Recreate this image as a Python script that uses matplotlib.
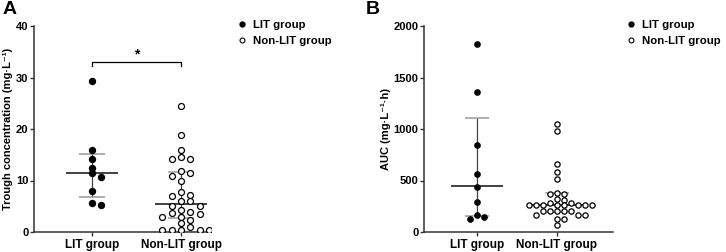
import numpy as np
import matplotlib
matplotlib.use("Agg")
import matplotlib.pyplot as plt
from matplotlib.lines import Line2D

plt.rcParams['font.family'] = ['Liberation Sans', 'DejaVu Sans']
plt.rcParams['font.weight'] = 'bold'

# DATA
groups = ['LIT group', 'Non-LIT group']

trough_lit = [29.4, 16.0, 14.2, 12.5, 11.4, 10.6, 7.9, 5.7, 5.3]
trough_non = [24.5, 18.8, 15.9, 14.5, 14.1, 14.1, 11.8, 11.4, 10.8, 10.0,
              7.7, 7.2, 7.0, 6.0, 6.0, 5.0, 5.0, 4.3, 3.9, 3.6, 3.5,
              2.9, 2.9, 2.3, 1.7, 0.9, 0.45, 0.45, 0.45, 0.45, 0.45]
trough_mid = [11.4, 5.5]
trough_low = [6.8, 2.7]
trough_high = [15.1, 11.6]

auc_lit = [1822, 1357, 847, 562, 439, 291, 168, 149, 129]
auc_non = [1050, 982, 657, 580, 515, 376, 366, 366, 317, 311,
           285, 278, 259, 259, 259, 259, 259, 259, 259, 259,
           200, 200, 200, 200, 200, 165, 165, 165, 126, 126, 68]
auc_mid = [447, 260]
auc_low = [155, 190]
auc_high = [1102, 375]


def swarm(ax, values, center, step_px, row_px):
    # greedy column placement, like a GraphPad scatter
    order = np.argsort(values)[::-1]
    placed = []
    xs = np.zeros(len(values))
    px_per_x = ax.transData.transform((1, 0))[0] - ax.transData.transform((0, 0))[0]
    px_per_y = ax.transData.transform((0, 1))[1] - ax.transData.transform((0, 0))[1]
    step = step_px / px_per_x
    for i in order:
        y = values[i]
        for k in [0, 1, -1, 2, -2, 3, -3, 4, -4, 5, -5]:
            x = center + k * step
            ok = True
            for (px, py) in placed:
                if abs(px - x) * px_per_x < step_px * 0.5 and abs(py - y) * px_per_y < row_px:
                    ok = False
                    break
            if ok:
                break
        placed.append((x, y))
        xs[i] = x
    return xs


def panel(ax, lit, non, mid, low, high, ylim, yticks, ylabel, xlim,
          ms, step_px, row_px, med_w, cap_w):
    ax.set_xlim(*xlim)
    ax.set_ylim(*ylim)
    x_lit = swarm(ax, lit, 0, step_px, row_px)
    x_non = swarm(ax, non, 1, step_px, row_px)
    ax.plot(x_lit, lit, 'o', color='black', ms=ms, mec='black', zorder=3)
    ax.plot(x_non, non, 'o', color='white', ms=ms, mec='black', mew=0.9, zorder=3)
    for i in range(2):
        ax.vlines(i, low[i], high[i], color='#444444', lw=0.9, zorder=2)
        ax.hlines([low[i], high[i]], i - cap_w, i + cap_w, color='#999999', lw=1.1, zorder=2)
        ax.hlines(mid[i], i - med_w, i + med_w, color='#333333', lw=1.3, zorder=2)
    ax.set_yticks(yticks)
    ax.set_xticks([0, 1])
    ax.set_xticklabels(groups, fontsize=8.5, fontweight='bold')
    ax.tick_params(axis='y', labelsize=8, length=3, width=1, color='#333333', pad=1)
    ax.tick_params(axis='x', length=3, width=1, color='#333333', pad=2)
    for lab in ax.get_yticklabels():
        lab.set_fontweight('bold')
    ax.set_ylabel(ylabel, fontsize=8, fontweight='bold', labelpad=2)
    for s in ['top', 'right']:
        ax.spines[s].set_visible(False)
    for s in ['left', 'bottom']:
        ax.spines[s].set_linewidth(1.1)
        ax.spines[s].set_color('#333333')


fig = plt.figure(figsize=(7.26, 2.52), dpi=100)
W, H = 726, 252

axA = fig.add_axes([34 / W, 1 - 232 / H, 177 / W, 206 / H])
panel(axA, trough_lit, trough_non, trough_mid, trough_low, trough_high,
      (0, 40), [0, 10, 20, 30, 40], 'Trough concentration (mg·L⁻¹)',
      (-0.652, 1.337), 4.3, 9.3, 5.5, 0.29, 0.15)

# significance bracket
axA.plot([0, 0, 1, 1], [32.3, 33.1, 33.1, 32.3], color='black', lw=0.9, clip_on=False)
axA.text(0.5, 33.2, '*', ha='center', va='bottom', fontsize=10, fontweight='bold')

axB = fig.add_axes([424 / W, 1 - 232 / H, 189 / W, 206 / H])
panel(axB, auc_lit, auc_non, auc_mid, auc_low, auc_high,
      (0, 2000), [0, 500, 1000, 1500, 2000], 'AUC (mg·L⁻¹·h)',
      (-0.6625, 1.7), 3.8, 7.0, 4.8, 0.33, 0.15)

fig.text(3 / W, 1 - 1 / H, 'A', fontsize=14, fontweight='bold', va='top', ha='left')
fig.text(366 / W, 1 - 1 / H, 'B', fontsize=14, fontweight='bold', va='top', ha='left')

handles = [Line2D([], [], ls='none', marker='o', color='black', ms=3.5),
           Line2D([], [], ls='none', marker='o', mfc='white', mec='black', mew=0.8, ms=3.5)]
for x0 in [236 / W, 625 / W]:
    fig.legend(handles, groups, loc='upper left', bbox_to_anchor=(x0, 1 - 20 / H),
               frameon=False, handlelength=1.0, handletextpad=0.5,
               labelspacing=0.5, borderpad=0, borderaxespad=0,
               prop={'weight': 'bold', 'size': 8.2})

fig.savefig('out.png', dpi=100)
